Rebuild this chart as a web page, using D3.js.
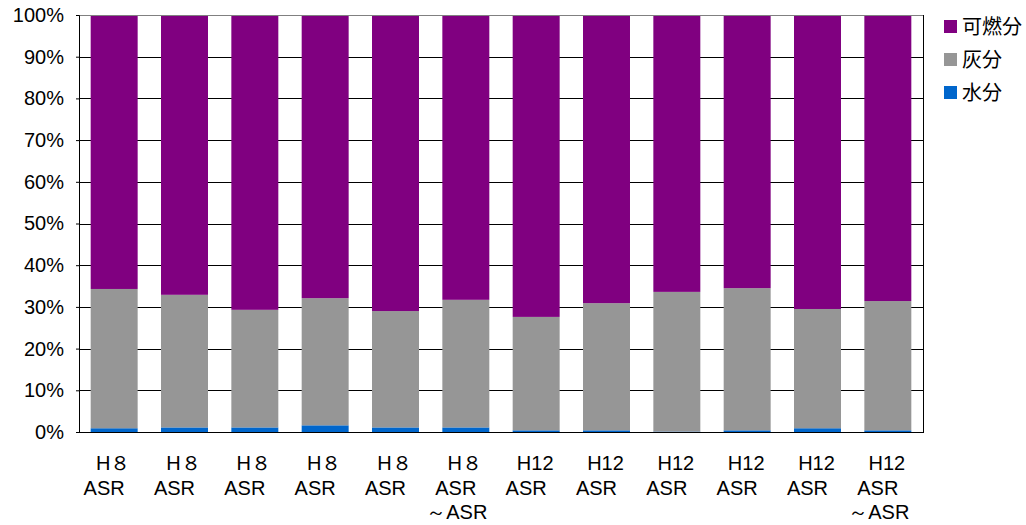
<!DOCTYPE html>
<html>
<head>
<meta charset="utf-8">
<script src="https://cdn.jsdelivr.net/npm/d3@7/dist/d3.min.js"></script>
<style>
  body { margin: 0; background: #fff; }
  svg { display: block; }
  text { font-family: "Liberation Sans", Arial, sans-serif; fill: #000; }
  .cjk { font-family: "Noto Sans CJK JP", "Noto Sans CJK SC", sans-serif; }
</style>
</head>
<body>
<svg id="chart" width="1026" height="525"></svg>
<script>
// Category labels (multi-line)
const categories = [
  ["H８", "ASR"], ["H８", "ASR"], ["H８", "ASR"], ["H８", "ASR"], ["H８", "ASR"],
  ["H８", "ASR", "～ASR"],
  ["H12", "ASR"], ["H12", "ASR"], ["H12", "ASR"], ["H12", "ASR"], ["H12", "ASR"],
  ["H12", "ASR", "～ASR"]
];
const seriesNames = ["水分", "灰分", "可燃分"];
// Composition (%) per sample
const water     = [0.9, 1.1, 1.1, 1.6, 1.1, 1.1, 0.4, 0.4, 0.1, 0.4, 0.9, 0.4];
const ash       = [33.4, 31.8, 28.2, 30.5, 27.9, 30.6, 27.2, 30.5, 33.5, 34.1, 28.6, 31.0];
const combustible = water.map((w, i) => 100 - w - ash[i]);
const yTicks = [0, 10, 20, 30, 40, 50, 60, 70, 80, 90, 100];
const colors = { "水分": "#0066CC", "灰分": "#969696", "可燃分": "#800080" };

const svg = d3.select("#chart");
const margin = { left: 79, top: 15, right: 103, bottom: 93 };
const W = 1026 - margin.left - margin.right;
const H = 525 - margin.top - margin.bottom;
const g = svg.append("g").attr("transform", `translate(${margin.left},${margin.top})`);

const x = d3.scaleBand().domain(d3.range(categories.length)).range([0, W]).paddingInner(0.332).paddingOuter(0.166);
const y = d3.scaleLinear().domain([0, 100]).range([H, 0]);

// gridlines
g.append("g").selectAll("line").data(yTicks).join("line")
  .attr("x1", 0).attr("x2", W)
  .attr("y1", d => Math.round(y(d)) + 0.5).attr("y2", d => Math.round(y(d)) + 0.5)
  .attr("stroke", "#000").attr("stroke-width", 1);

// stacked bars
const rows = categories.map((c, i) => ({ i, "水分": water[i], "灰分": ash[i], "可燃分": combustible[i] }));
const stack = d3.stack().keys(seriesNames)(rows);
g.append("g").selectAll("g").data(stack).join("g")
  .attr("fill", d => colors[d.key])
  .selectAll("rect").data(d => d).join("rect")
  .attr("x", d => x(d.data.i))
  .attr("width", x.bandwidth())
  .attr("y", d => y(d[1]))
  .attr("height", d => y(d[0]) - y(d[1]));

// plot border: top, right
g.append("line").attr("x1", 0).attr("x2", W).attr("y1", 0.5).attr("y2", 0.5).attr("stroke", "#808080");
g.append("line").attr("x1", W + 0.5).attr("x2", W + 0.5).attr("y1", 0).attr("y2", H).attr("stroke", "#000");

// y axis
const yAxis = g.append("g")
  .call(d3.axisLeft(y).tickValues(yTicks).tickFormat(d => d + "%").tickSize(3).tickPadding(12));
yAxis.select(".domain").attr("stroke", "#000");
yAxis.selectAll("text").style("font-family", '"Liberation Sans", Arial, sans-serif').style("font-size", "20px").attr("fill", "#000");

// x axis line
g.append("line").attr("x1", 0).attr("x2", W + 1).attr("y1", H + 0.5).attr("y2", H + 0.5).attr("stroke", "#000");

// category labels
const lineOffsets = [-1, -10, -9];
const lab = g.append("g").selectAll("text").data(categories).join("text")
  .attr("text-anchor", "middle")
  .style("font-size", "20px");
lab.each(function(lines, i) {
  const cx = x(i) + x.bandwidth() / 2;
  d3.select(this).selectAll("tspan").data(lines).join("tspan")
    .attr("x", (d, j) => cx + lineOffsets[j])
    .attr("y", (d, j) => H + 38 + j * 24.5)
    .text(d => d);
});

// legend
const legendItems = ["可燃分", "灰分", "水分"];
const leg = svg.append("g").attr("transform", "translate(944,20)");
const li = leg.selectAll("g").data(legendItems).join("g")
  .attr("transform", (d, i) => `translate(0,${i * 33})`);
li.append("rect").attr("width", 13).attr("height", 13).attr("fill", d => colors[d]);
li.append("text").attr("class", "cjk").attr("x", 18).attr("y", 6.5).attr("dy", "0.36em")
  .style("font-size", "20px").text(d => d);
</script>
</body>
</html>
